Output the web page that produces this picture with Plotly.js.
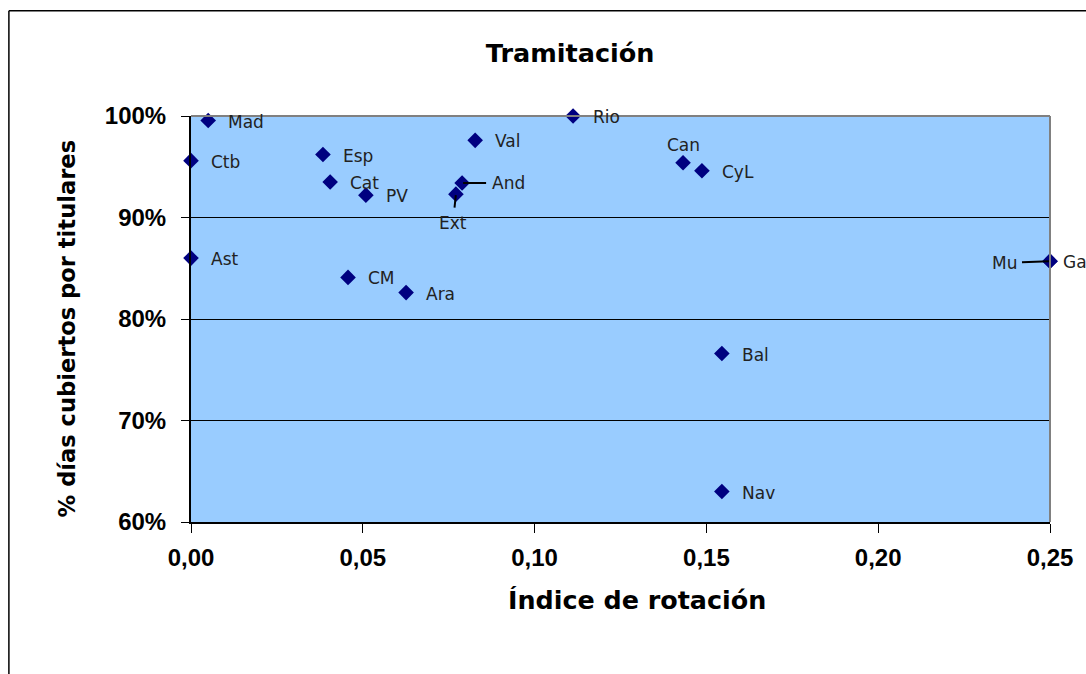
<!DOCTYPE html>
<html>
<head>
<meta charset="utf-8">
<script src="https://cdn.plot.ly/plotly-3.0.1.min.js"></script>
<style>
  html, body { margin: 0; padding: 0; background: #fff; }
  #chart { width: 1086px; height: 674px; }
</style>
</head>
<body>
<div id="chart"></div>
<script>
// Comunidades (etiquetas), índice de rotación y % días cubiertos por titulares
var regions = ["Mad", "Ctb", "Esp", "Cat", "PV", "Ext", "And", "Val", "Rio", "Can", "CyL",
               "Ast", "CM", "Ara", "Bal", "Nav", "Ga", "Mu"]
var rotation = [0.005, 0.000, 0.0384, 0.0405, 0.0509, 0.0771, 0.0789, 0.0827, 0.1112, 0.1432, 0.1487,
                0.000, 0.0457, 0.0626, 0.1545, 0.1545, 0.250, 0.250]
var coverage = [0.9955, 0.956, 0.962, 0.935, 0.922, 0.923, 0.934, 0.976, 1.000, 0.954, 0.946,
                0.860, 0.841, 0.826, 0.766, 0.630, 0.857, 0.857]

var xTicks = [0, 0.05, 0.10, 0.15, 0.20, 0.25]
var xTickText = ["0,00", "0,05", "0,10", "0,15", "0,20", "0,25"]
var yTicks = [0.6, 0.7, 0.8, 0.9, 1.0]

// where a label does not sit just to the right of its point
var labelPlace = {
  Can: { xshift: 0, yshift: 18, xanchor: "center" },
  Ga:  { xshift: 11 },
  Ext: { arrow: true, ax: -3, ay: 29 },
  And: { arrow: true, ax: 46, ay: 0 },
  Mu:  { arrow: true, ax: -46, ay: 2 }
}

var labelFont = { family: "DejaVu Sans, Verdana, sans-serif", size: 17, color: "#222" }

var annotations = regions.map(function (name, i) {
  var p = labelPlace[name] || {}
  if (p.arrow) {
    return {
      x: rotation[i], y: coverage[i], xref: "x", yref: "y",
      text: name, font: labelFont,
      showarrow: true, arrowhead: 0, arrowwidth: 2, arrowcolor: "#000",
      ax: p.ax, ay: p.ay, borderpad: 5, standoff: 1
    }
  }
  return {
    x: rotation[i], y: coverage[i], xref: "x", yref: "y",
    text: name, font: labelFont, showarrow: false,
    xanchor: p.xanchor || "left", yanchor: "middle",
    xshift: p.xshift !== undefined ? p.xshift : 18, yshift: p.yshift || -1
  }
})

// axis titles placed as in the original
annotations.push({
  text: "<b>Índice de rotación</b>", xref: "paper", yref: "paper",
  x: 0.519, y: -0.193, xanchor: "center", yanchor: "middle", showarrow: false,
  font: { family: "DejaVu Sans, Verdana, sans-serif", size: 25.4, color: "#000" }
})
annotations.push({
  text: "<b>% días cubiertos por titulares</b>", xref: "paper", yref: "paper",
  x: -0.145, y: 0.478, xanchor: "center", yanchor: "middle", showarrow: false, textangle: -90,
  font: { family: "DejaVu Sans, Verdana, sans-serif", size: 22.6, color: "#000" }
})

var trace = {
  x: rotation,
  y: coverage,
  text: regions,
  type: "scatter",
  mode: "markers",
  cliponaxis: false,
  hoverinfo: "text+x+y",
  marker: { symbol: "diamond", size: 12, color: "#000080" }
}

var tickFont = { family: "Liberation Sans, Arial, sans-serif", size: 24, color: "#000", weight: "bold" }

var layout = {
  width: 1086,
  height: 674,
  margin: { l: 191, r: 36, t: 116, b: 152 },
  paper_bgcolor: "#ffffff",
  plot_bgcolor: "#99ccff",
  showlegend: false,
  title: {
    text: "<b>Tramitación</b>",
    x: 0.525, xref: "container", xanchor: "center",
    y: 0.921, yref: "container", yanchor: "middle",
    font: { family: "DejaVu Sans, Verdana, sans-serif", size: 25.5, color: "#000" }
  },
  xaxis: {
    range: [0, 0.25],
    tickvals: xTicks,
    ticktext: xTickText,
    ticks: "outside", ticklen: 9, tickcolor: "#000", tickwidth: 1,
    ticklabelstandoff: 4,
    tickfont: tickFont,
    showgrid: false, zeroline: false,
    showline: true, linecolor: "#000", linewidth: 2,
    mirror: false
  },
  yaxis: {
    range: [0.6, 1.0],
    tickvals: yTicks,
    tickformat: ".0%",
    ticks: "outside", ticklen: 8, tickcolor: "#000", tickwidth: 1,
    ticklabelstandoff: 10,
    tickfont: tickFont,
    showgrid: true, gridcolor: "#000", gridwidth: 1,
    zeroline: false,
    showline: true, linecolor: "#000", linewidth: 2
  },
  shapes: [
    // grey border on top and right of the plot area
    { type: "line", xref: "paper", yref: "paper", x0: 0, x1: 1, y0: 1, y1: 1,
      line: { color: "#808080", width: 2 } },
    { type: "line", xref: "paper", yref: "paper", x0: 1, x1: 1, y0: 0, y1: 1,
      line: { color: "#808080", width: 2 } },
    // outer chart frame
    { type: "line", xref: "paper", yref: "paper", x0: -0.212, x1: 1.1, y0: 1.259, y1: 1.259,
      line: { color: "#000", width: 1.5 } },
    { type: "line", xref: "paper", yref: "paper", x0: -0.212, x1: -0.212, y0: -0.4, y1: 1.259,
      line: { color: "#000", width: 1.5 } }
  ],
  annotations: annotations
}

Plotly.newPlot("chart", [trace], layout, { displayModeBar: false, staticPlot: true })
</script>
</body>
</html>
